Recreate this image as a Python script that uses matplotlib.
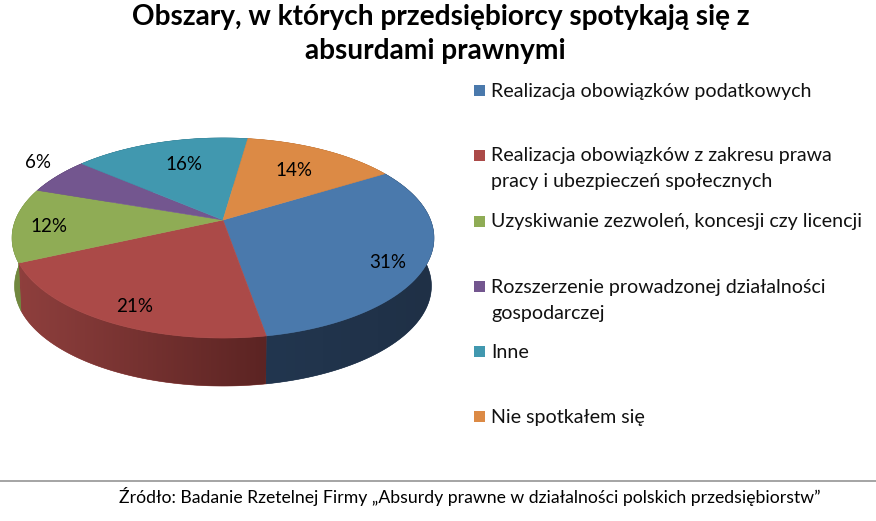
import numpy as np
import matplotlib
matplotlib.use("Agg")
import matplotlib.pyplot as plt
from matplotlib.patches import Polygon, Rectangle
from matplotlib.colors import LinearSegmentedColormap

title_lines = ["Obszary, w których przedsiębiorcy spotykają się z", "absurdami prawnymi"]
categories = ["Realizacja obowiązków podatkowych",
              "Realizacja obowiązków z zakresu prawa\npracy i ubezpieczeń społecznych",
              "Uzyskiwanie zezwoleń, koncesji czy licencji",
              "Rozszerzenie prowadzonej działalności\ngospodarczej",
              "Inne",
              "Nie spotkałem się"]
values = [31, 21, 12, 6, 16, 14]
source = "Źródło: Badanie Rzetelnej Firmy „Absurdy prawne w działalności polskich przedsiębiorstw”"

colors = ["#4A79AC", "#AB4A48", "#8FAC55", "#73568F", "#4198AF", "#DC8A45"]
wall_l = ["#22364F", "#8E3F3D", "#71883F", "#4A3560", "#2A6575", "#A8642B"]
wall_r = ["#1F3046", "#5C2423", "#71883F", "#4A3560", "#2A6575", "#A8642B"]
legend_y = [91, 156, 222, 287, 352, 417]
label_xy = [(388, 263), (135, 306), (49, 226), (38, 163), (184, 165), (294, 170)]

CX, CY, A, B, C, DEPTH = 223, 220, 207.5, 96.8, 0.18, 48
START = 31.5

def proj(t, depth=0.0):
    t = np.radians(t)
    u, v = np.cos(t), np.sin(t)
    d = 1 + C * v
    s = 1 - 0.012 * (depth > 0)
    return CX + s * A * u / d, CY - B * v / d + depth

fig = plt.figure(figsize=(8.76, 5.21), dpi=100)
ax = fig.add_axes([0, 0, 1, 1])
ax.axis("off")

angles = START - np.concatenate([[0], np.cumsum(values)]) * 3.6
spans = list(zip(angles[:-1], angles[1:]))

# side wall: one clipped gradient per slice
for i, (a0, a1) in enumerate(spans):
    ts = np.linspace(a0, a1, 120)
    x0, y0 = proj(ts)
    x1, y1 = proj(ts, DEPTH)
    pts = np.column_stack([np.r_[x0, x1[::-1]], np.r_[y0, y1[::-1]]])
    poly = Polygon(pts, closed=True, fc=wall_l[i], ec=wall_l[i], lw=0.4, zorder=1)
    ax.add_patch(poly)
    lo, hi = pts[:, 0].min(), pts[:, 0].max()
    cmap = LinearSegmentedColormap.from_list("w", [wall_l[i], wall_r[i]])
    im = ax.imshow(np.linspace(0, 1, 64).reshape(1, -1), cmap=cmap, aspect="auto",
                   extent=(lo, hi, pts[:, 1].max(), pts[:, 1].min()), zorder=1.1,
                   interpolation="bilinear")
    im.set_clip_path(poly)

# top face
for i, (a0, a1) in enumerate(spans):
    ts = np.linspace(a0, a1, 120)
    x, y = proj(ts)
    pts = np.column_stack([np.r_[CX, x], np.r_[CY, y]])
    ax.add_patch(Polygon(pts, closed=True, fc=colors[i], ec=colors[i], lw=0.4, zorder=2))

ax.set_xlim(0, 876)
ax.set_ylim(521, 0)

# data labels
for v, (x, y) in zip(values, label_xy):
    ax.text(x, y, f"{v}%", ha="center", va="center", fontsize=13.5, family="Lato",
            color="black", zorder=3)

# title
ax.text(441, 17, title_lines[0], ha="center", va="center", fontsize=20.2,
        fontweight="bold", family="Lato")
ax.text(435, 51, title_lines[1], ha="center", va="center", fontsize=20.2,
        fontweight="bold", family="Lato")

# legend
for c, lab, y in zip(colors, categories, legend_y):
    ax.add_patch(Rectangle((474, y - 6), 11, 11, fc=c, ec="none"))
    for k, line in enumerate(lab.split("\n")):
        ax.text(491, y + k * 26, line, ha="left", va="center", fontsize=14.1,
                family="Lato", color="#111111")

# source
ax.plot([0, 876], [480.5, 480.5], color="#8C8C8C", lw=1.1)
ax.text(119, 497, source, ha="left", va="center", fontsize=12.7, family="Lato", color="black")

fig.savefig("out.png", dpi=100)
